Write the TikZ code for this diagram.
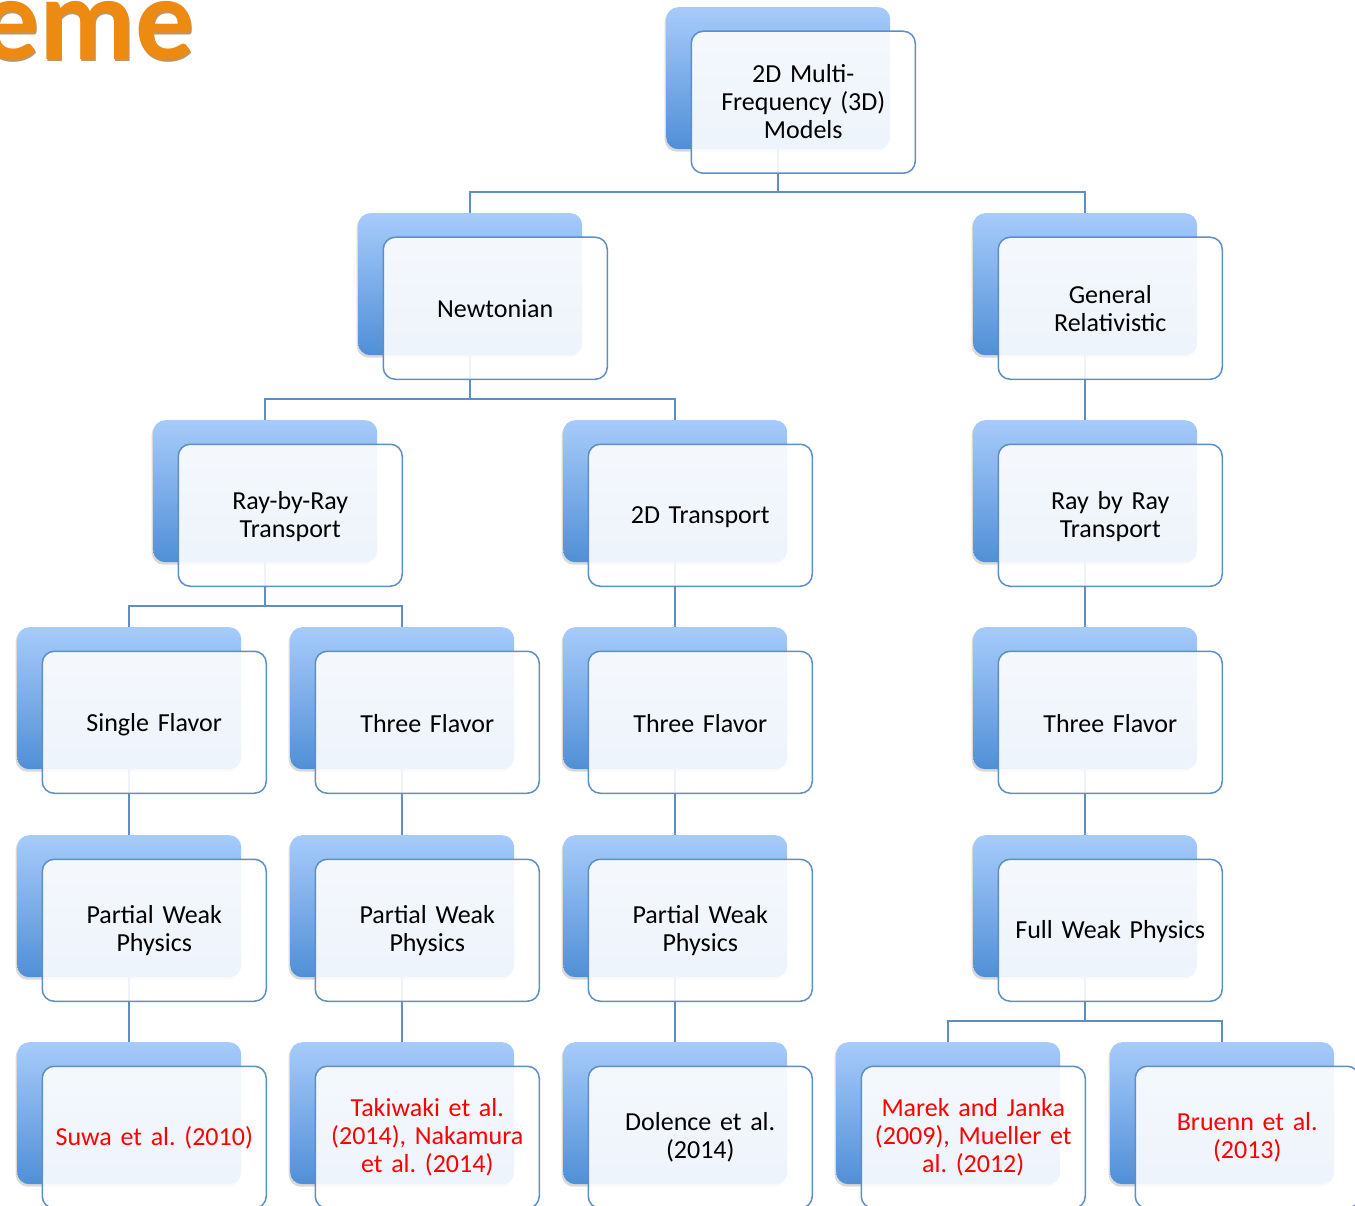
\documentclass[tikz,border=0pt]{standalone}
\usepackage{fontspec}
\setmainfont{Carlito}
\usetikzlibrary{shadows}
\frenchspacing
\definecolor{backtop}{RGB}{167,203,250}
\definecolor{backbot}{RGB}{80,143,214}
\definecolor{edgeblue}{RGB}{94,141,200}
\definecolor{citered}{RGB}{255,0,0}
\definecolor{titleorange}{RGB}{236,138,18}
\definecolor{titleshade}{RGB}{140,80,10}
\tikzset{
  backbox/.style={rectangle, rounded corners=12pt, minimum width=224pt, minimum height=142pt,
    inner sep=0pt, anchor=north west, top color=backtop, bottom color=backbot, draw=none,
    drop shadow={shadow xshift=-1.5pt, shadow yshift=-2.5pt, opacity=0.3}},
  frontbox/.style={rectangle, rounded corners=12pt, minimum width=224pt, minimum height=142pt,
    inner sep=0pt, anchor=north west, draw=edgeblue, line width=1.5pt, fill=white,
    fill opacity=0.9},
  boxtext/.style={align=center, text width=215pt, inner sep=0pt,
    font=\fontsize{26}{28}\selectfont},
  link/.style={draw=edgeblue, line width=1.6pt},
  citetext/.style={text=citered},
  titletext/.style={font=\fontsize{118}{118}\selectfont\bfseries, anchor=base east, inner sep=0pt}
}
\newcommand\addback[3]{\node[backbox] (#1B) at (#2,#3) {};}
% #1 name, #2 x, #3 y, #4 text, #5 style, #6 text shift down
\newcommand\addfront[6]{%
  \node[frontbox] (#1) at ({#2+24.5},{#3+23.5}) {};
  \node[boxtext,#5] (#1T) at ([yshift=-#6pt]#1.center) {#4};}
\begin{document}
\begin{tikzpicture}[x=1pt,y=-1pt]
\useasboundingbox (0,0) rectangle (1355,1206);
\path[clip] (0,0) rectangle (1355,1206);

% title fragment
\node[titletext, text=titleshade, opacity=0.6] (titleshadow) at (196.5,62) {eme};
\node[titletext, text=titleorange] (title) at (195,60) {eme};

% back boxes
\addback{top}{666}{7}
\addback{newt}{358}{213}
\addback{gr}{973}{213}
\addback{rbr}{153}{420}
\addback{twod}{563}{420}
\addback{grrbr}{973}{420}
\addback{single}{17}{627}
\addback{threeA}{290}{627}
\addback{threeB}{563}{627}
\addback{threeC}{973}{627}
\addback{pwA}{17}{835}
\addback{pwB}{290}{835}
\addback{pwC}{563}{835}
\addback{fwp}{973}{835}
\addback{suwa}{17}{1042}
\addback{taki}{290}{1042}
\addback{dol}{563}{1042}
\addback{marek}{836}{1042}
\addback{bru}{1110}{1042}

% connectors
\draw[link] (topB.south) |- ([yshift=21pt]newtB.north) -- (newtB.north);
\draw[link] (topB.south) |- ([yshift=21pt]grB.north) -- (grB.north);
\draw[link] (newtB.south) |- ([yshift=21pt]rbrB.north) -- (rbrB.north);
\draw[link] (newtB.south) |- ([yshift=21pt]twodB.north) -- (twodB.north);
\draw[link] (grB.south) -- (grrbrB.north);
\draw[link] (rbrB.south) |- ([yshift=21pt]singleB.north) -- (singleB.north);
\draw[link] (rbrB.south) |- ([yshift=21pt]threeAB.north) -- (threeAB.north);
\draw[link] (twodB.south) -- (threeBB.north);
\draw[link] (grrbrB.south) -- (threeCB.north);
\draw[link] (singleB.south) -- (pwAB.north);
\draw[link] (threeAB.south) -- (pwBB.north);
\draw[link] (threeBB.south) -- (pwCB.north);
\draw[link] (threeCB.south) -- (fwpB.north);
\draw[link] (pwAB.south) -- (suwaB.north);
\draw[link] (pwBB.south) -- (takiB.north);
\draw[link] (pwCB.south) -- (dolB.north);
\draw[link] (fwpB.south) |- ([yshift=21pt]marekB.north) -- (marekB.north);
\draw[link] (fwpB.south) |- ([yshift=21pt]bruB.north) -- (bruB.north);

% front boxes with texts
\addfront{top}{666}{7}{2D Multi-\\Frequency (3D)\\Models}{}{-1}
\addfront{newt}{358}{213}{Newtonian}{}{0}
\addfront{gr}{973}{213}{General\\Relativistic}{}{0}
\addfront{rbr}{153}{420}{Ray-by-Ray\\Transport}{}{1}
\addfront{twod}{563}{420}{2D Transport}{}{2}
\addfront{grrbr}{973}{420}{Ray by Ray\\Transport}{}{1}
\addfront{single}{17}{627}{Single Flavor}{}{2}
\addfront{threeA}{290}{627}{Three Flavor}{}{1}
\addfront{threeB}{563}{627}{Three Flavor}{}{1}
\addfront{threeC}{973}{627}{Three Flavor}{}{1}
\addfront{pwA}{17}{835}{Partial Weak\\Physics}{}{0}
\addfront{pwB}{290}{835}{Partial Weak\\Physics}{}{0}
\addfront{pwC}{563}{835}{Partial Weak\\Physics}{}{0}
\addfront{fwp}{973}{835}{Full Weak Physics}{}{1}
\addfront{suwa}{17}{1042}{Suwa et al. (2010)}{citetext}{1}
\addfront{taki}{290}{1042}{Takiwaki et al.\\(2014), Nakamura\\et al. (2014)}{citetext}{0}
\addfront{dol}{563}{1042}{Dolence et al.\\(2014)}{}{0}
\addfront{marek}{836}{1042}{Marek and Janka\\(2009), Mueller et\\al. (2012)}{citetext}{0}
\addfront{bru}{1110}{1042}{Bruenn et al.\\(2013)}{citetext}{0}
\end{tikzpicture}
\end{document}
